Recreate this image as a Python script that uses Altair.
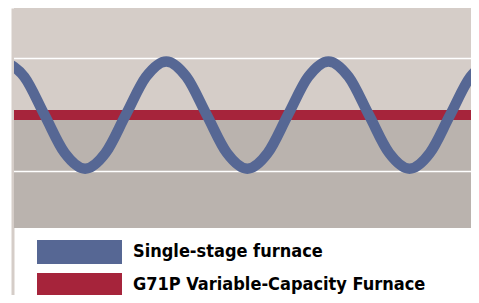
import altair as alt
import pandas as pd

# ---- data ----
# time in minutes (one on/off cycle of the single-stage furnace = 20 min)
time_min = [0, 2.5, 5, 7.5, 10, 12.5, 15, 17.5, 20, 22.5, 25, 27.5, 30,
            32.5, 35, 37.5, 40, 42.5, 45, 47.5, 50, 52.5, 55, 57.5, 60]
# room temperature (°F) with the single-stage furnace
single_stage = [71.9, 71.35, 70.0, 68.65, 68.1, 68.65, 70.0, 71.35,
                71.9, 71.35, 70.0, 68.65, 68.1, 68.65, 70.0, 71.35,
                71.9, 71.35, 70.0, 68.65, 68.1, 68.65, 70.0, 71.35, 71.9]
# variable-capacity furnace holds the set point
variable_time = [0, 60]
variable_temp = [70.0, 70.0]

series_names = ["Single-stage furnace", "G71P Variable-Capacity Furnace"]
series_colors = ["#566794", "#a6243b"]

band_names = ["above set point", "below set point"]
band_low = [70, 66]
band_high = [74, 70]
band_colors = ["#d5cdc8", "#bab3ae"]

gridlines = [68, 72]

x_domain = [1.23, 57.58]
y_domain = [63.63, 73.79]

# ---- tables ----
wave_df = pd.DataFrame({"t": time_min, "temp": single_stage})
flat_df = pd.DataFrame({"t": variable_time, "temp": variable_temp})
band_df = pd.DataFrame({"band": band_names, "lo": band_low, "hi": band_high})
grid_df = pd.DataFrame({"temp": gridlines})
legend_df = pd.DataFrame({"series": series_names})

xs = alt.Scale(domain=x_domain, nice=False, zero=False)
ys = alt.Scale(domain=y_domain, nice=False, zero=False)

y_axis = alt.Axis(domain=True, domainColor="#d5cdc8", domainWidth=3,
                  ticks=False, labels=False, grid=False, title=None, offset=1.5)

bands = alt.Chart(band_df).mark_rect(clip=True).encode(
    y=alt.Y("lo:Q", scale=ys, axis=y_axis),
    y2="hi:Q",
    color=alt.Color("band:N", scale=alt.Scale(domain=band_names, range=band_colors),
                    legend=None),
)

grid = alt.Chart(grid_df).mark_rule(color="white", strokeWidth=1.6).encode(
    y=alt.Y("temp:Q", scale=ys),
)

flat = alt.Chart(flat_df).mark_line(
    color=series_colors[1], strokeWidth=10, clip=True, strokeCap="butt"
).encode(
    x=alt.X("t:Q", scale=xs, axis=None),
    y=alt.Y("temp:Q", scale=ys),
)

wave = alt.Chart(wave_df).mark_line(
    color=series_colors[0], strokeWidth=10.5, clip=True, interpolate="monotone"
).encode(
    x=alt.X("t:Q", scale=xs, axis=None),
    y=alt.Y("temp:Q", scale=ys),
)

legend_layer = alt.Chart(legend_df).mark_point(
    filled=True, opacity=0, strokeWidth=0
).encode(
    fill=alt.Fill(
        "series:N",
        scale=alt.Scale(domain=series_names, range=series_colors),
        legend=alt.Legend(
            title=None, orient="none", legendX=23, legendY=232,
            direction="vertical", padding=0,
            symbolType="M-1,-1H6.083V1H-1Z", symbolSize=576,
            symbolOpacity=1, symbolStrokeWidth=0,
            labelOffset=72,
            labelFont="DejaVu Sans Condensed, Liberation Sans Narrow, Roboto, sans-serif",
            labelFontSize=18, labelFontWeight="bold", labelColor="#000000",
            labelLimit=500, rowPadding=9,
        ),
    )
)

chart = alt.layer(bands, grid, flat, wave, legend_layer).properties(
    width=457, height=287,
    autosize=alt.AutoSizeParams(type="none"),
    padding={"left": 6, "top": 0, "right": 0, "bottom": 0},
    background="white",
).configure_view(stroke=None)

chart.save("out.html", embed_options={"renderer": "svg", "actions": False})
